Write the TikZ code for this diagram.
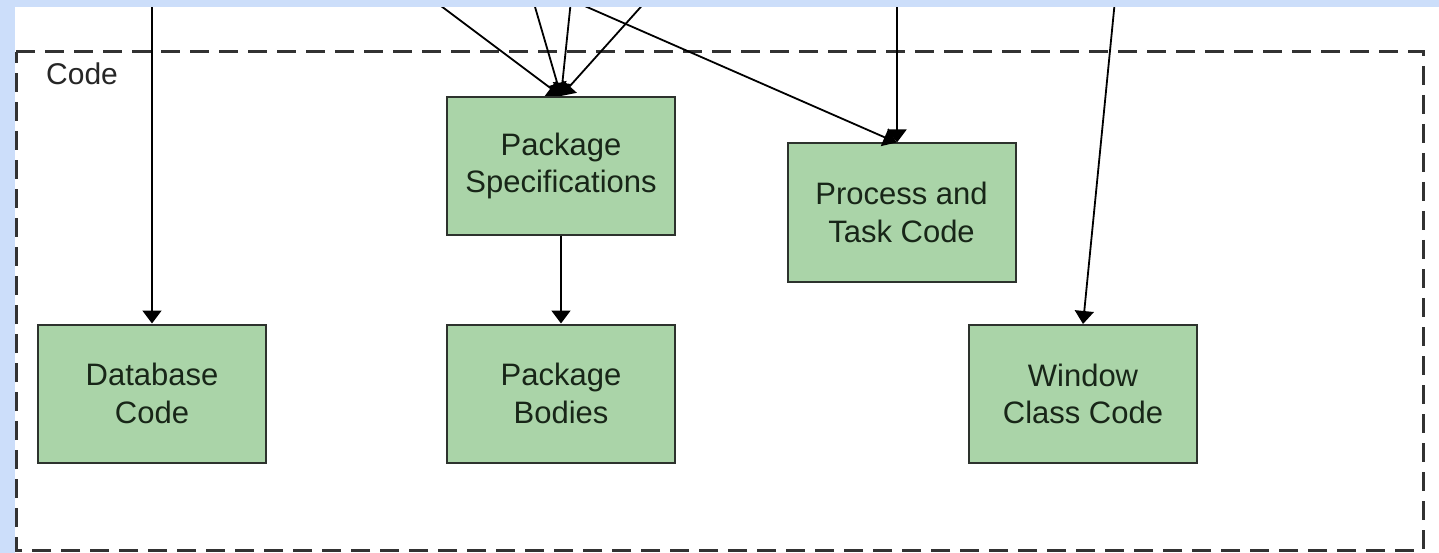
\documentclass[tikz,border=0pt]{standalone}
\usepackage{fontspec}
\setmainfont{Liberation Sans}
\usetikzlibrary{arrows.meta,calc}
\definecolor{boxfill}{RGB}{170,212,168}
\definecolor{boxline}{RGB}{45,50,45}
\definecolor{boxtext}{RGB}{24,38,24}
\definecolor{band}{RGB}{204,222,250}
\definecolor{frameline}{RGB}{50,50,50}
\tikzset{
  unit/.style={x=1pt,y=-1pt},
  module/.style={draw=boxline,line width=2pt,fill=boxfill,text=boxtext,
    minimum width=228pt,minimum height=138pt,align=center,inner sep=0pt,
    font=\fontsize{31}{37.5}\selectfont},
  link/.style={draw=black,line width=1.8pt,-{Triangle[length=13pt,width=19pt]}},
  boundary/.style={draw=frameline,line width=3pt,dash pattern=on 19pt off 10pt},
  caption/.style={anchor=west,inner sep=0pt,text=black!85,font=\fontsize{30}{36}\selectfont}
}
\begin{document}
\begin{tikzpicture}[unit]
\useasboundingbox (0,0) rectangle (1439,553);
\fill[white] (0,0) rectangle (1439,553);

% dashed container
\draw[boundary] (16,52) -- (1423,52) -- (1423,550) -- (16,550) -- cycle;
\node[caption] (lbl) at (46,74) {Code};

% modules
\node[module] (db)   at (152,393.5) {Database\\Code};
\node[module] (spec) at (561,166)   {Package\\Specifications};
\node[module] (body) at (561,393.5) {Package\\Bodies};
\node[module] (proc) at (901.5,212.5) {Process and\\Task Code};
\node[module] (win)  at (1083,394)  {Window\\Class Code};

% incoming ends from outside the container
\coordinate (e1) at (152,0);
\coordinate (e2) at (433,0);
\coordinate (e3) at (533,0);
\coordinate (e4) at (571,0);
\coordinate (e5) at (647,0);
\coordinate (e6) at (897,0);
\coordinate (e7) at (1115,0);

\draw[link] (e1) -- (db.north);
\draw[link] (e2) -- (spec.north);
\draw[link] (e3) -- (spec.north);
\draw[link] (e4) -- (spec.north);
\draw[link] (e5) -- (spec.north);
\draw[link] (e4) -- ($(proc.north)+(-5,0)$);
\draw[link] (e6) -- (e6 |- proc.north);
\draw[link] (e7) -- (win.north);
\draw[link] (spec.south) -- (body.north);

% light blue page edge
\fill[band] (0,0) rectangle (1439,7);
\fill[band] (0,0) rectangle (15,553);
\end{tikzpicture}
\end{document}
